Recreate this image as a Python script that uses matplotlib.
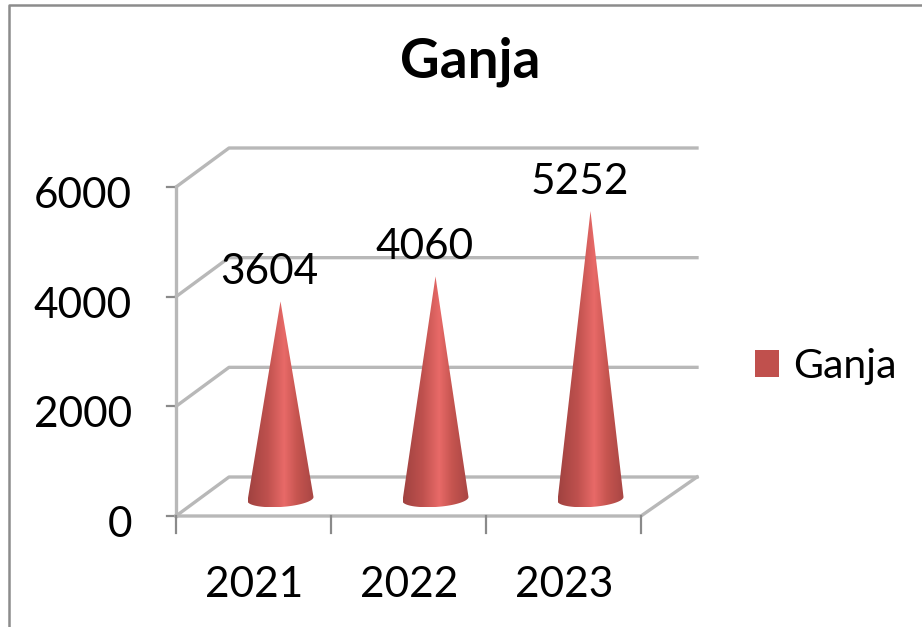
import numpy as np
import matplotlib
matplotlib.use("Agg")
import matplotlib.pyplot as plt
from matplotlib.colors import LinearSegmentedColormap
from matplotlib.patches import PathPatch, Rectangle
from matplotlib.path import Path

categories = ["2021", "2022", "2023"]
series_name = "Ganja"
values = [3604, 4060, 5252]
y_ticks = [0, 2000, 4000, 6000]

plt.rcParams["font.family"] = ["Lato", "DejaVu Sans"]
W, H = 922, 627
fig = plt.figure(figsize=(W / 100, H / 100), dpi=100, facecolor="white")
L, R, T, B = 176, 641, 187, 516
ax = fig.add_axes([L / W, 1 - B / H, (R - L) / W, (B - T) / H])
ax.set_xlim(0, 3)
ax.set_ylim(0, 6000)
ax.axis("off")

px_x = 3 / (R - L)
px_y = 6000 / (B - T)
DX, DY = 53 * px_x, 39 * px_y
END = 3 + 56 * px_x
wall = "#b8b8b8"
tick_c = "#8a8a8a"
lw = 2.4

for v in y_ticks:
    ax.plot([0, DX, END], [v, v + DY, v + DY], color=wall, lw=lw, clip_on=False,
            solid_joinstyle="round", zorder=1)
    ax.plot([-9 * px_x, 0], [v, v], color=tick_c, lw=1.6, clip_on=False, zorder=1)
ax.plot([0, 0], [0, 6000], color=wall, lw=lw, clip_on=False, zorder=1)
ax.plot([0, 3, END], [0, 0, DY], color=wall, lw=lw, clip_on=False, zorder=1)
for i in range(4):
    ax.plot([i, i], [0, -17 * px_y], color=tick_c, lw=1.6, clip_on=False, zorder=1)

cmap = LinearSegmentedColormap.from_list(
    "cone", [(0, "#a04240"), (0.3, "#bf514e"), (0.55, "#e86a68"), (0.75, "#c5544f"), (1, "#a84644")])
grad = np.linspace(0, 1, 256).reshape(1, -1)
hw = 33 * px_x
for i, v in enumerate(values):
    cx = i + 0.5 + 27 * px_x
    y0 = 17 * px_y
    t = np.linspace(np.pi, 2 * np.pi, 40)
    bx = cx + hw * np.cos(t)
    by = y0 + 8 * px_y * np.sin(t) + 2 * px_y * np.cos(t)
    verts = list(zip(bx, by)) + [(cx, v + y0), (bx[0], by[0])]
    codes = [Path.MOVETO] + [Path.LINETO] * (len(verts) - 2) + [Path.CLOSEPOLY]
    patch = PathPatch(Path(verts, codes), transform=ax.transData, fc="none", ec="none")
    ax.add_patch(patch)
    im = ax.imshow(grad, cmap=cmap, extent=[cx - hw, cx + hw, by.min(), v + y0],
                   aspect="auto", zorder=3, interpolation="bilinear")
    im.set_clip_path(patch)
    ax.annotate(str(v), (cx, v + y0), xytext=(-11 * 0.72, 29 * 0.72), textcoords="offset points",
                ha="center", va="center", fontsize=30.5, color="black", zorder=4)
ax.set_xlim(0, 3)
ax.set_ylim(0, 6000)

for v in y_ticks:
    ax.annotate(str(v), (0, v), xytext=(-44 * 0.72, -9 * 0.72), textcoords="offset points",
                ha="right", va="center", fontsize=30.5, color="black", annotation_clip=False)
for i, c in enumerate(categories):
    ax.annotate(c, (i + 0.5, 0), xytext=(1 * 0.72, -69 * 0.72), textcoords="offset points",
                ha="center", va="center", fontsize=30.5, color="black", annotation_clip=False)

fig.text(470 / W, 1 - 62 / H, series_name, ha="center", va="center", fontsize=39.5,
         fontweight="bold", color="black")

# legend
fig.patches.append(Rectangle((755 / W, 1 - 377 / H), 24 / W, 27 / H, transform=fig.transFigure,
                             fc="#c0504d", ec="none"))
fig.text(793 / W, 1 - 366 / H, series_name, ha="left", va="center", fontsize=29.5, color="black")

# chart frame
fig.add_artist(plt.Line2D([8.5 / W, 8.5 / W, 1], [0, 1 - 5 / H, 1 - 5 / H],
                          color="#8c8c8c", lw=1.8, transform=fig.transFigure))

fig.savefig("out.png", dpi=100)
